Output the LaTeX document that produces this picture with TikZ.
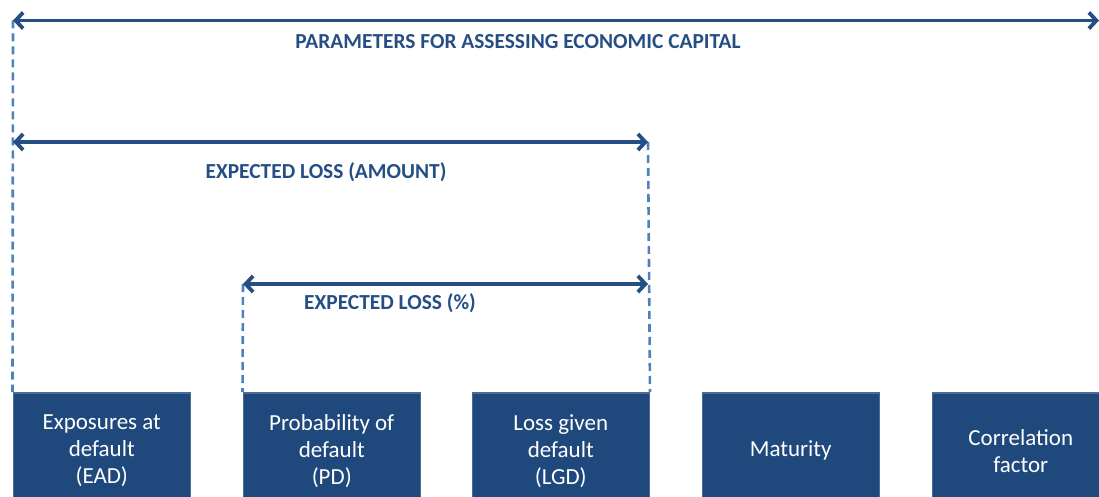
\documentclass[tikz,border=0pt]{standalone}
\usepackage{fontspec}
\setmainfont{Carlito}
\usetikzlibrary{arrows.meta}
\definecolor{boxblue}{HTML}{1F497D}
\definecolor{edgeblue}{HTML}{4A6C98}
\definecolor{arrowblue}{HTML}{254E85}
\definecolor{dashblue}{HTML}{4F81BD}
\tikzset{
  param/.style={draw=edgeblue, line width=1.5pt, fill=boxblue, text=white,
    minimum width=177pt, minimum height=116pt, inner sep=0pt, align=center,
    anchor=north west, font=\fontsize{23}{27}\selectfont},
  spanarrow/.style={arrowblue, line width=3.8pt,
    {Straight Barb[length=7.5pt,width=16pt]}-{Straight Barb[length=7.5pt,width=16pt]}},
  guide/.style={dashblue, line width=2.6pt, dash pattern=on 8pt off 5pt},
  spanlabel/.style={text=arrowblue, font=\fontsize{21.4}{24}\selectfont\bfseries}
}
\begin{document}
\begin{tikzpicture}[x=1pt,y=-1pt]
  \useasboundingbox (0,0) rectangle (1099,497);

  % parameter boxes
  \node[param] (ead)  at (12.5,392)  {Exposures at\\default\\(EAD)};
  \node[param] (pd)   at (242.5,392) {Probability of\\default\\(PD)};
  \node[param] (lgd)  at (471.5,392) {Loss given\\default\\(LGD)};
  \node[param] (mat)  at (701.5,392) {Maturity};
  \node[param] (corr) at (931.5,392) {Correlation\\factor};

  % span ends
  \coordinate (capL) at (13,20.5);
  \coordinate (capR) at (1099,20.5);
  \coordinate (amtL) at (13,142);
  \coordinate (amtR) at (648,142);
  \coordinate (pctL) at (243,284);
  \coordinate (pctR) at (648,284);

  \draw[guide] (capL) -- (ead.north west);
  \draw[guide] (pctL) -- (pd.north west);
  \draw[guide] (amtR) -- (lgd.north east);

  \draw[spanarrow] (capL) -- (capR);
  \draw[spanarrow] (amtL) -- (amtR);
  \draw[spanarrow] (pctL) -- (pctR);

  \node[spanlabel] (caplbl) at (518,42)  {PARAMETERS FOR ASSESSING ECONOMIC CAPITAL};
  \node[spanlabel] (amtlbl) at (326,172) {EXPECTED LOSS (AMOUNT)};
  \node[spanlabel] (pctlbl) at (390,303) {EXPECTED LOSS (\%)};
\end{tikzpicture}
\end{document}
